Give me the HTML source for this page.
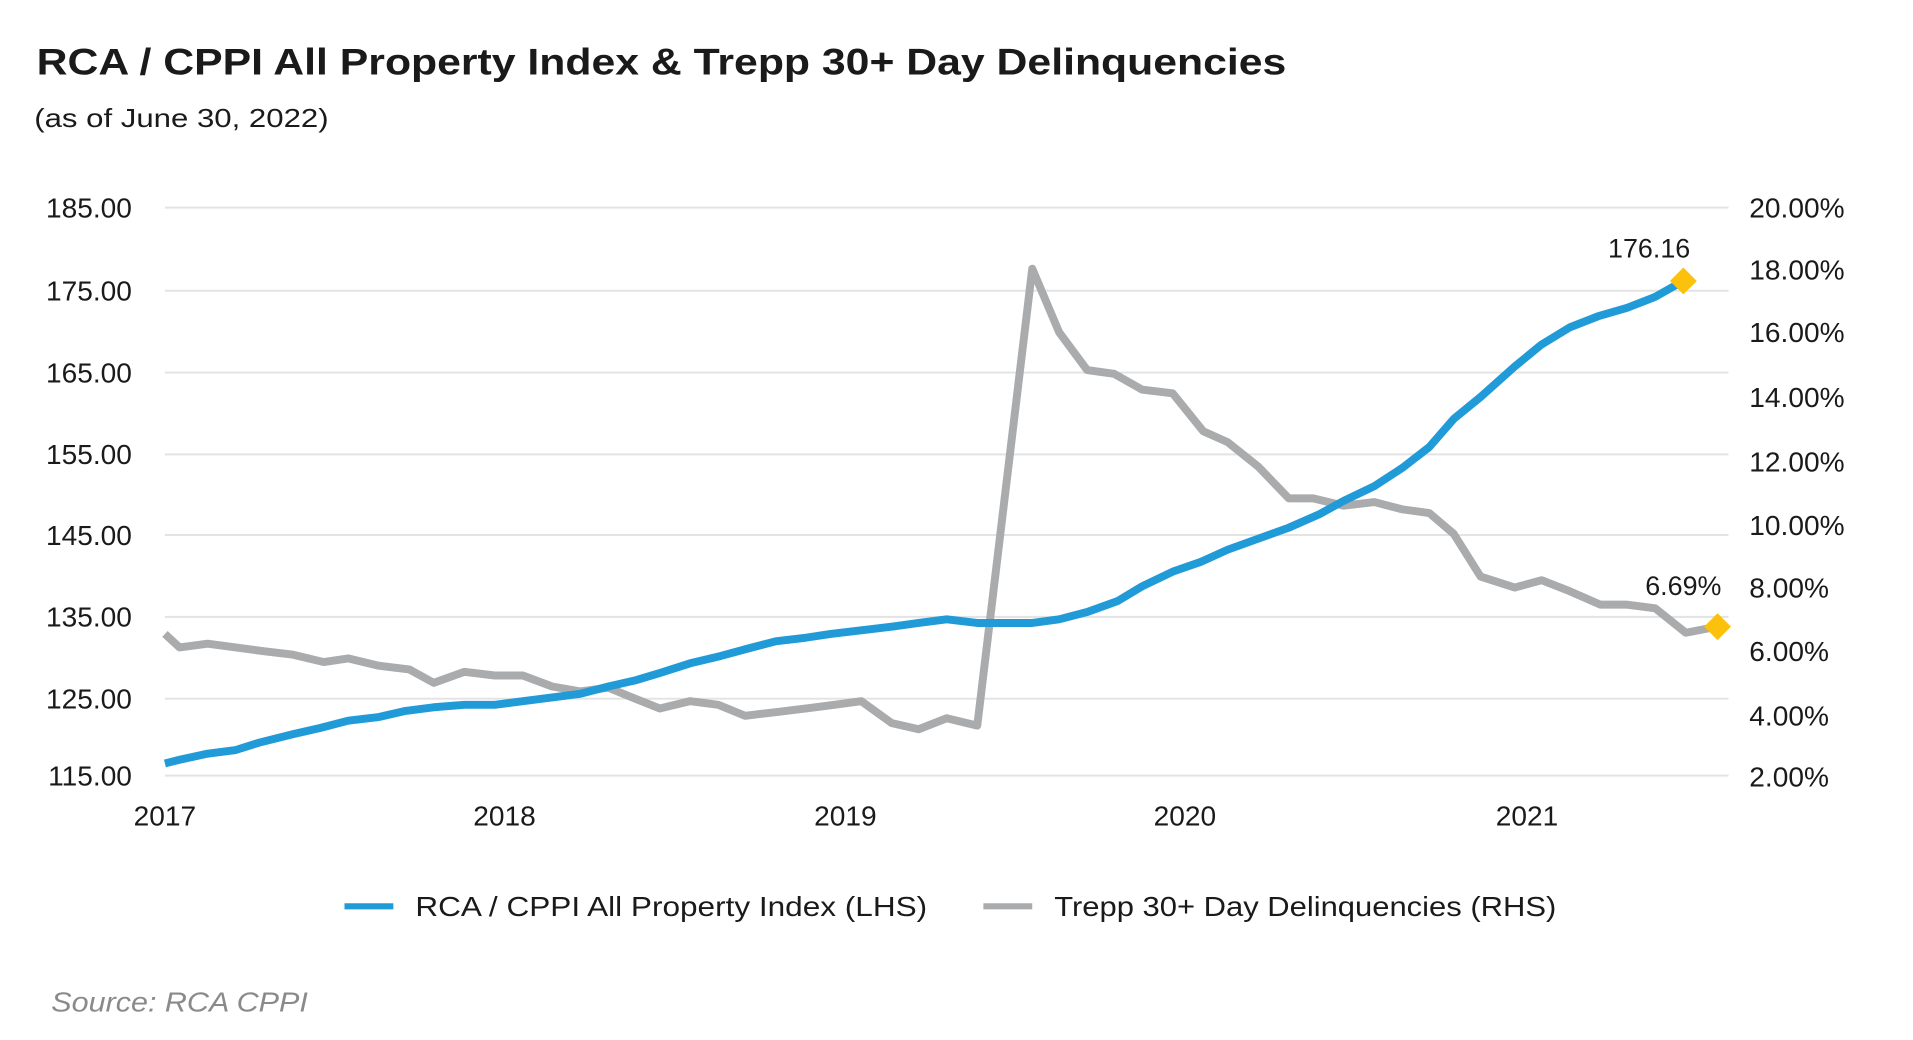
<!DOCTYPE html>
<html><head><meta charset="utf-8"><style>
html,body{margin:0;padding:0;background:#fff;}
svg{display:block}
text{font-family:"Liberation Sans",sans-serif;fill:#1a1a1a}
</style></head><body>
<svg width="1913" height="1040" viewBox="0 0 1566 851.4" preserveAspectRatio="none">
<text x="30" y="61" font-size="30" font-weight="bold" textLength="1023" lengthAdjust="spacingAndGlyphs">RCA / CPPI All Property Index &amp; Trepp 30+ Day Delinquencies</text>
<text x="28" y="104" font-size="21" textLength="241" lengthAdjust="spacingAndGlyphs">(as of June 30, 2022)</text>
<g stroke="#e3e3e3" stroke-width="1.6">
<line x1="135" x2="1415" y1="170" y2="170"/><line x1="135" x2="1415" y1="238" y2="238"/>
<line x1="135" x2="1415" y1="305" y2="305"/><line x1="135" x2="1415" y1="372" y2="372"/>
<line x1="135" x2="1415" y1="438" y2="438"/><line x1="135" x2="1415" y1="505" y2="505"/>
<line x1="135" x2="1415" y1="572" y2="572"/><line x1="135" x2="1415" y1="635" y2="635"/>
</g>
<g font-size="23" text-anchor="end">
<text x="108" y="178">185.00</text><text x="108" y="246">175.00</text><text x="108" y="313">165.00</text>
<text x="108" y="380">155.00</text><text x="108" y="446">145.00</text><text x="108" y="513">135.00</text>
<text x="108" y="580">125.00</text><text x="108" y="643">115.00</text>
</g>
<g font-size="23">
<text x="1432" y="178">20.00%</text><text x="1432" y="229">18.00%</text><text x="1432" y="280">16.00%</text>
<text x="1432" y="333">14.00%</text><text x="1432" y="386">12.00%</text><text x="1432" y="438">10.00%</text>
<text x="1432" y="489">8.00%</text><text x="1432" y="541">6.00%</text><text x="1432" y="594">4.00%</text>
<text x="1432" y="644">2.00%</text>
</g>
<g font-size="23" text-anchor="middle">
<text x="135" y="676">2017</text><text x="413" y="676">2018</text><text x="692" y="676">2019</text>
<text x="970" y="676">2020</text><text x="1250" y="676">2021</text>
</g>
<polyline fill="none" stroke="#aaabad" stroke-width="6.5" stroke-linejoin="round" points="135,519 147,530 170,527 193,530 215,533 240,536 265,542 285,539 310,545 335,548 355,559 380,550 405,553 428,553 452,562 475,566 498,563 520,572 540,580 565,574 588,577 610,586 635,583 660,580 683,577 705,574 730,592 752,597 775,588 800,594 845,220 867,272 890,303 912,306 935,319 960,322 985,353 1005,362 1030,382 1055,408 1075,408 1100,414 1125,411 1148,417 1170,420 1190,437 1212,472 1240,481 1262,475 1285,484 1310,495 1332,495 1355,498 1380,518 1406,513"/>
<polyline fill="none" stroke="#219bd8" stroke-width="6.5" stroke-linejoin="round" points="135,625 147,622 170,617 193,614 212,608 240,601 262,596 285,590 310,587 332,582 355,579 380,577 405,577 428,574 452,571 475,568 498,562 520,557 540,551 565,543 590,537 612,531 635,525 660,522 680,519 705,516 730,513 752,510 775,507 800,510 822,510 845,510 867,507 890,501 915,492 935,480 960,468 983,460 1005,450 1030,441 1055,432 1080,421 1100,410 1125,398 1148,383 1170,366 1190,343 1212,325 1240,300 1262,282 1285,268 1308,259 1332,252 1355,243 1378,230"/>
<polygon fill="#fcc10c" points="1378,219 1389,230 1378,241 1367,230"/>
<polygon fill="#fcc10c" points="1406,502 1417,513 1406,524 1395,513"/>
<text x="1350" y="211" font-size="22" text-anchor="middle">176.16</text>
<text x="1378" y="487" font-size="22" text-anchor="middle">6.69%</text>
<line x1="282" x2="322" y1="742" y2="742" stroke="#219bd8" stroke-width="5"/>
<text x="340" y="750" font-size="23" textLength="419" lengthAdjust="spacingAndGlyphs">RCA / CPPI All Property Index (LHS)</text>
<line x1="805" x2="845" y1="742" y2="742" stroke="#aaabad" stroke-width="5"/>
<text x="863" y="750" font-size="23" textLength="411" lengthAdjust="spacingAndGlyphs">Trepp 30+ Day Delinquencies (RHS)</text>
<text x="42" y="828" font-size="23" font-style="italic" style="fill:#8a8a8a" textLength="210" lengthAdjust="spacingAndGlyphs">Source: RCA CPPI</text>
</svg>
</body></html>
